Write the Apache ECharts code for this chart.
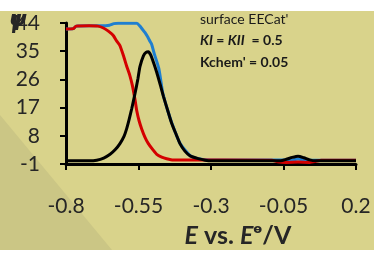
<!DOCTYPE html>
<html>
<head>
<meta charset="utf-8">
<script src="https://cdn.jsdelivr.net/npm/echarts@6/dist/echarts.min.js"></script>
<style>
  html, body { margin: 0; padding: 0; background: #fff; }
  #chart { width: 374px; height: 253px; }
</style>
</head>
<body>
<div id="chart"></div>
<script>
// [E, value] pairs
const redPts = [
  [-0.8, 42.1], [-0.775, 42.2], [-0.765, 43.0], [-0.72, 43.1], [-0.69, 43.0],
  [-0.671, 42.4], [-0.654, 41.4], [-0.637, 40.0], [-0.625, 38.2], [-0.614, 36.8],
  [-0.602, 33.6], [-0.591, 30.3], [-0.58, 27.3], [-0.571, 24.0], [-0.562, 19.5],
  [-0.556, 16.0], [-0.548, 12.8], [-0.539, 10.2], [-0.528, 7.6], [-0.516, 5.5],
  [-0.5, 3.5], [-0.487, 2.1], [-0.47, 1.2], [-0.453, 0.7], [-0.43, 0.3],
  [-0.09, 0.2], [-0.07, -0.3], [-0.04, -0.5], [0.0, -0.4], [0.04, -0.5],
  [0.06, -0.2], [0.08, 0.2], [0.2, 0.2]
]
const bluePts = [
  [-0.8, 42.1], [-0.775, 42.2], [-0.765, 43.0], [-0.72, 43.1], [-0.677, 43.1],
  [-0.65, 43.3], [-0.635, 43.8], [-0.62, 43.9], [-0.556, 43.9], [-0.545, 43.0],
  [-0.535, 41.8], [-0.528, 41.0], [-0.518, 39.5], [-0.51, 38.1], [-0.505, 37.3],
  [-0.495, 34.0], [-0.48, 29.5], [-0.466, 21.5], [-0.45, 16.3], [-0.436, 12.3],
  [-0.407, 5.6], [-0.372, 1.7], [-0.344, 0.7], [-0.3, 0.3], [-0.02, 0.3],
  [0.0, 0.6], [0.02, 0.3], [0.2, 0.2]
]
const blackPts = [
  [-0.8, 0], [-0.72, 0], [-0.694, 0.2], [-0.67, 0.9], [-0.648, 2.1],
  [-0.63, 3.6], [-0.614, 5.5], [-0.6, 7.8], [-0.591, 10.2], [-0.582, 13.3],
  [-0.573, 16.8], [-0.562, 21.5], [-0.552, 26.2], [-0.545, 30.1], [-0.533, 33.5],
  [-0.524, 34.6], [-0.516, 34.8], [-0.508, 33.8], [-0.498, 31.3], [-0.487, 28.2],
  [-0.475, 24.3], [-0.464, 20.6], [-0.45, 16.3], [-0.436, 12.1], [-0.42, 8.4],
  [-0.407, 5.5], [-0.39, 3.1], [-0.372, 1.6], [-0.344, 0.7], [-0.32, 0.2],
  [-0.3, 0], [-0.06, 0], [-0.04, 0.5], [-0.02, 1.1], [0.0, 1.5],
  [0.02, 1.0], [0.04, 0.3], [0.06, 0], [0.2, 0]
]
const xTicks = [-0.8, -0.55, -0.3, -0.05, 0.2]
const yTicks = [-1, 8, 17, 26, 35, 44]

const chart = echarts.init(document.getElementById('chart'), null, { renderer: 'canvas' })

const font = 'Lato'
const textColor = '#262626'

const option = {
  backgroundColor: '#ffffff',
  animation: false,
  grid: { left: 66, right: 18, top: 23, bottom: 72 },
  graphic: [
    { type: 'rect', z: -20, shape: { x: 0, y: 11, width: 374, height: 239 }, style: { fill: '#d9d38b' } },
    { type: 'polygon', z: -19, shape: { points: [[0, 115], [112, 250], [0, 250]] }, style: { fill: '#cbc685' } },
    { type: 'text', left: 200, top: 12, style: { text: "surface EECat'", font: '14px ' + font, fill: '#1a1a1a' } },
    {
      type: 'text', left: 200, top: 33,
      style: {
        text: '{i|KI} = {i|KII}  = 0.5',
        font: 'bold 14px ' + font, fill: '#1a1a1a',
        rich: { i: { font: 'italic bold 14px ' + font, fill: '#1a1a1a' } }
      }
    },
    { type: 'text', left: 200, top: 55, style: { text: "Kchem' = 0.05", font: 'bold 14px ' + font, fill: '#1a1a1a' } },
    { type: 'text', left: 9, top: 9, style: { text: 'ψ', font: 'italic bold 22px DejaVu Sans', fill: '#262626' } },
    { type: 'text', left: 11, top: 13, style: { text: 'I', font: 'italic bold 24px ' + font, fill: '#262626' } }
  ],
  xAxis: {
    type: 'value',
    min: -0.8,
    max: 0.2,
    name: '{i|E} vs. {i|E}{s|ө}/V',
    nameLocation: 'middle',
    nameGap: 59,
    nameTextStyle: {
      fontFamily: font, fontSize: 25, fontWeight: 'bold', color: textColor,
      padding: [0, 0, 0, 54],
      rich: {
        i: { fontFamily: font, fontSize: 25, fontWeight: 'bold', fontStyle: 'italic', color: textColor },
        s: { fontFamily: 'DejaVu Sans', fontSize: 13, fontWeight: 'bold', color: textColor, verticalAlign: 'top', padding: [0, 0, 10, 0] }
      }
    },
    axisLine: { onZero: false, lineStyle: { color: '#000', width: 3 } },
    axisTick: { show: true, customValues: xTicks, length: 6, lineStyle: { color: '#000', width: 2 } },
    axisLabel: { customValues: xTicks, margin: 32, fontFamily: font, fontSize: 21, color: textColor },
    splitLine: { show: false }
  },
  yAxis: {
    type: 'value',
    min: -1,
    max: 44,
    axisLine: { show: true, onZero: false, lineStyle: { color: '#000', width: 3 } },
    axisTick: { show: true, customValues: yTicks, length: 6, lineStyle: { color: '#000', width: 2 } },
    axisLabel: { customValues: yTicks, margin: 26, fontFamily: font, fontSize: 21, color: textColor },
    splitLine: { show: false }
  },
  series: [
    { name: 'blue', type: 'line', data: bluePts, symbol: 'none', smooth: 0.2, z: 2, lineStyle: { color: '#1f7fd0', width: 3 } },
    { name: 'red', type: 'line', data: redPts, symbol: 'none', smooth: 0.2, z: 3, lineStyle: { color: '#d40000', width: 3 } },
    { name: 'black', type: 'line', data: blackPts, symbol: 'none', smooth: 0.2, z: 4, lineStyle: { color: '#000000', width: 3 } }
  ]
}

chart.setOption(option)
</script>
</body>
</html>
